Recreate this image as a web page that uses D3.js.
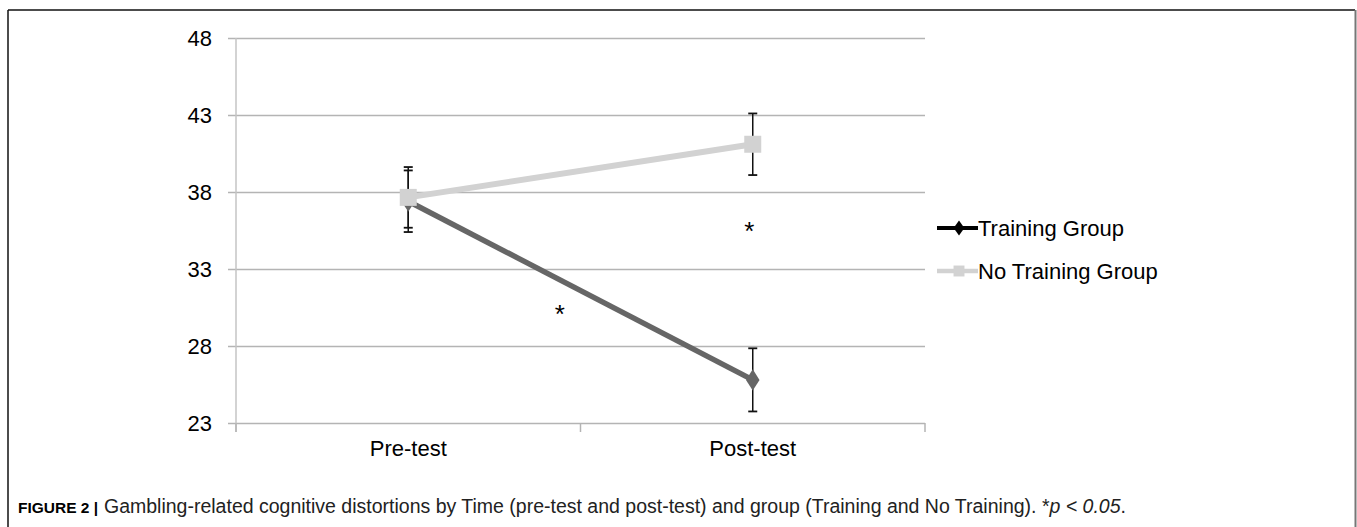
<!DOCTYPE html>
<html><head><meta charset="utf-8">
<script src="https://cdn.jsdelivr.net/npm/d3@7"></script>
<style>
html,body{margin:0;padding:0;background:#fff;}
svg{display:block;font-family:"Liberation Sans",Arial,sans-serif;}
</style></head>
<body>
<svg id="chart" width="1357" height="527"></svg>
<script>
const categories = ["Pre-test", "Post-test"];
const seriesNames = ["Training Group", "No Training Group"];
const trainingMeans = [37.4, 25.8];
const trainingErrors = [2.0, 2.05];
const noTrainingMeans = [37.65, 41.1];
const noTrainingErrors = [1.97, 2.0];
const yTicks = [23, 28, 33, 38, 43, 48];
const significance = [
  {pos: 0.44, value: 30.3},
  {pos: 0.99, value: 35.65}
];
const captionBold = "FIGURE 2 |";
const captionText = "Gambling-related cognitive distortions by Time (pre-test and post-test) and group (Training and No Training). *";
const captionItalic = "p < 0.05";
const captionEnd = ".";

(function(){
const svg = d3.select("#chart");
const W = 1357, H = 527;
const mL = 236, mR = 925, mT = 38, mB = 423;

// frame
svg.append("line").attr("x1",8).attr("x2",8).attr("y1",10).attr("y2",H).attr("stroke","#111").attr("stroke-width",1.5);
svg.append("line").attr("x1",8).attr("x2",W-2).attr("y1",10).attr("y2",10).attr("stroke","#111").attr("stroke-width",1.5);
svg.append("line").attr("x1",W-1.5).attr("x2",W-1.5).attr("y1",10).attr("y2",H).attr("stroke","#777").attr("stroke-width",2);

const x = d3.scaleBand().domain(categories).range([mL, mR]).padding(0);
const y = d3.scaleLinear().domain([23, 48]).range([mB, mT]);
const cx = c => x(c) + x.bandwidth()/2;

// gridlines + y ticks
const yAxis = d3.axisLeft(y).tickValues(yTicks).tickSize(-(mR-mL)).tickPadding(24).tickFormat(d3.format("d"));
const gy = svg.append("g").attr("transform",`translate(${mL},0)`).call(yAxis);
gy.select(".domain").remove();
gy.selectAll(".tick line").attr("stroke","#b4b4b4").attr("stroke-width",1.5).attr("x1",-8);
gy.selectAll(".tick text").attr("font-size",22).attr("fill","#000").attr("font-family","Liberation Sans, Arial, sans-serif");
svg.append("line").attr("x1",mL).attr("x2",mL).attr("y1",mT).attr("y2",mB+9).attr("stroke","#c4c4c4").attr("stroke-width",1.5);

// x axis
const xAxis = d3.axisBottom(x).tickSize(0).tickPadding(17);
const gx = svg.append("g").attr("transform",`translate(0,${mB})`).call(xAxis);
gx.select(".domain").remove();
gx.selectAll(".tick text").attr("font-size",22).attr("fill","#000").attr("font-family","Liberation Sans, Arial, sans-serif");
const bounds = [x(categories[0]), x(categories[1]), x(categories[1]) + x.bandwidth()];
svg.selectAll(".xb").data(bounds).enter().append("line")
  .attr("x1",d=>d).attr("x2",d=>d).attr("y1",mB).attr("y2",mB+9)
  .attr("stroke","#b4b4b4").attr("stroke-width",1.5);

// error bars
function errorBars(means, errs) {
  const g = svg.append("g");
  categories.forEach((c,i) => {
    const xc = cx(c), y1 = y(means[i]+errs[i]), y2 = y(means[i]-errs[i]);
    g.append("line").attr("x1",xc).attr("x2",xc).attr("y1",y1).attr("y2",y2).attr("stroke","#111").attr("stroke-width",1.5);
    [y1,y2].forEach(yy => g.append("line").attr("x1",xc-4.5).attr("x2",xc+4.5).attr("y1",yy).attr("y2",yy).attr("stroke","#111").attr("stroke-width",1.8));
  });
}
errorBars(trainingMeans, trainingErrors);
errorBars(noTrainingMeans, noTrainingErrors);

const line = d3.line().x((d,i)=>cx(categories[i])).y(d=>y(d));
// training
svg.append("path").datum(trainingMeans).attr("d",line).attr("fill","none").attr("stroke","#666").attr("stroke-width",5.5);
svg.selectAll(".tm").data(trainingMeans).enter().append("path")
  .attr("transform",(d,i)=>`translate(${cx(categories[i])},${y(d)}) scale(1,0.9)`)
  .attr("d", d3.symbol().type(d3.symbolDiamond).size(160)).attr("fill","#666");
// no training
svg.append("path").datum(noTrainingMeans).attr("d",line).attr("fill","none").attr("stroke","#d2d2d2").attr("stroke-width",6);
svg.selectAll(".nm").data(noTrainingMeans).enter().append("path")
  .attr("transform",(d,i)=>`translate(${cx(categories[i])},${y(d)})`)
  .attr("d", d3.symbol().type(d3.symbolSquare).size(17*17)).attr("fill","#d2d2d2");

// significance asterisks
const xp = d3.scaleLinear().domain([0,1]).range([cx(categories[0]), cx(categories[1])]);
svg.selectAll(".sig").data(significance).enter().append("text")
  .attr("x",d=>xp(d.pos)).attr("y",d=>y(d.value)+12).attr("text-anchor","middle")
  .attr("font-size",26).attr("fill","#000").text("*");

// legend
const leg = svg.append("g");
const legX = 937, legY = [228, 271];
leg.append("line").attr("x1",legX).attr("x2",legX+41).attr("y1",legY[0]).attr("y2",legY[0]).attr("stroke","#000").attr("stroke-width",4);
leg.append("path").attr("transform",`translate(${legX+22},${legY[0]}) scale(1,0.8)`).attr("d", d3.symbol().type(d3.symbolDiamond).size(100)).attr("fill","#000");
leg.append("line").attr("x1",legX).attr("x2",legX+41).attr("y1",legY[1]).attr("y2",legY[1]).attr("stroke","#d2d2d2").attr("stroke-width",4.5);
leg.append("path").attr("transform",`translate(${legX+22},${legY[1]})`).attr("d", d3.symbol().type(d3.symbolSquare).size(120)).attr("fill","#d2d2d2");
seriesNames.forEach((s,i) => leg.append("text").attr("x",legX+41).attr("y",legY[i]+8).attr("font-size",22).attr("fill","#000").text(s));

// caption
svg.append("text").attr("x",18).attr("y",513).attr("font-size",15.5).attr("font-weight","bold").attr("fill","#000")
  .attr("font-family","Liberation Sans, Arial, sans-serif").text(captionBold);
const cap = svg.append("text").attr("x",104).attr("y",513).attr("font-size",19.5).attr("fill","#222")
  .attr("font-family","Liberation Sans, Arial, sans-serif");
cap.append("tspan").text(captionText);
cap.append("tspan").attr("font-style","italic").text(captionItalic);
cap.append("tspan").text(captionEnd);
})();
</script>
</body></html>
